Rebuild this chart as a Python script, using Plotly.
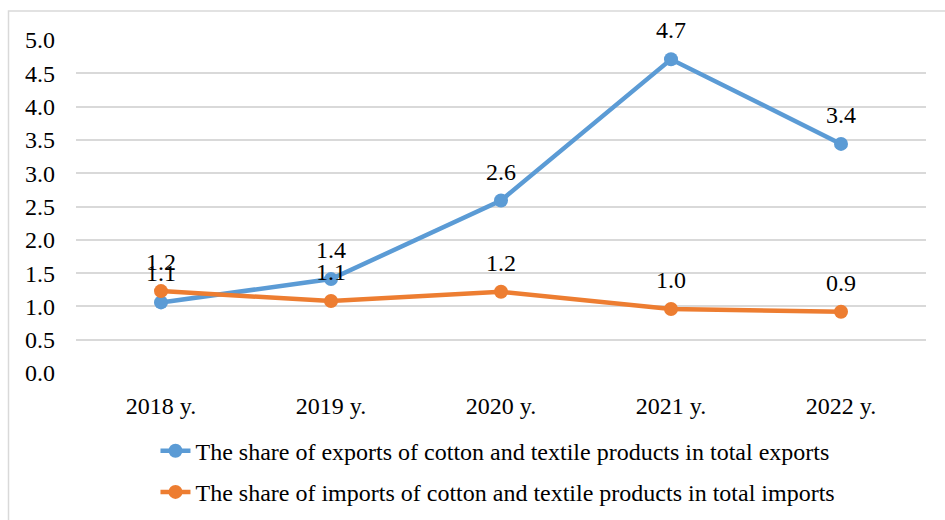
import plotly.graph_objects as go

years = ["2018 y.", "2019 y.", "2020 y.", "2021 y.", "2022 y."]
exports_share = [1.06, 1.41, 2.59, 4.71, 3.44]
imports_share = [1.23, 1.08, 1.22, 0.96, 0.92]
export_name = "The share of exports of cotton and textile products in total exports"
import_name = "The share of imports of cotton and textile products in total imports"

BLUE = "#5B9BD5"
ORANGE = "#ED7D31"
FONT = "Liberation Serif"
FS = 24

fig = go.Figure()
fig.add_trace(go.Scatter(x=years, y=exports_share, name=export_name, mode="lines+markers",
                         line=dict(color=BLUE, width=4.5), marker=dict(size=14, color=BLUE),
                         legendgroup="a"))
fig.add_trace(go.Scatter(x=years, y=imports_share, name=import_name, mode="lines+markers",
                         line=dict(color=ORANGE, width=4.5), marker=dict(size=14, color=ORANGE),
                         legendgroup="b"))

annotations = []
for series in (exports_share, imports_share):
    for x, v in zip(years, series):
        annotations.append(dict(x=x, y=v, text=f"{v:.1f}", showarrow=False, yshift=29,
                                font=dict(family=FONT, size=FS, color="black")))

fig.update_layout(
    width=945, height=520,
    margin=dict(l=76, r=19, t=40, b=147, autoexpand=False),
    paper_bgcolor="white", plot_bgcolor="white",
    font=dict(family=FONT, size=FS, color="black"),
    annotations=annotations,
    showlegend=True,
    legend=dict(orientation="v", x=0.0935, xanchor="left", y=-0.167, yanchor="top",
                font=dict(family=FONT, size=FS, color="black"), tracegroupgap=7,
                bgcolor="rgba(0,0,0,0)"),
    xaxis=dict(type="category", range=[-0.5, 4.5], showgrid=False, showline=False, zeroline=False,
               ticks="", ticklabelstandoff=16, tickfont=dict(family=FONT, size=FS)),
    yaxis=dict(range=[0, 5], dtick=0.5, tickformat=".1f", showgrid=True, gridcolor="#D9D9D9",
               gridwidth=1.5, zeroline=False, showline=False, ticks="", ticklabelstandoff=20,
               tickfont=dict(family=FONT, size=FS)),
    shapes=[dict(type="rect", xref="paper", yref="paper", x0=(8.5 - 76) / 850, x1=(960 - 76) / 850,
                 y0=(373 - 540) / 333, y1=(373 - 11) / 333, line=dict(color="#D9D9D9", width=1.5),
                 fillcolor="rgba(0,0,0,0)", layer="below")],
)

fig.write_html("out.html")
